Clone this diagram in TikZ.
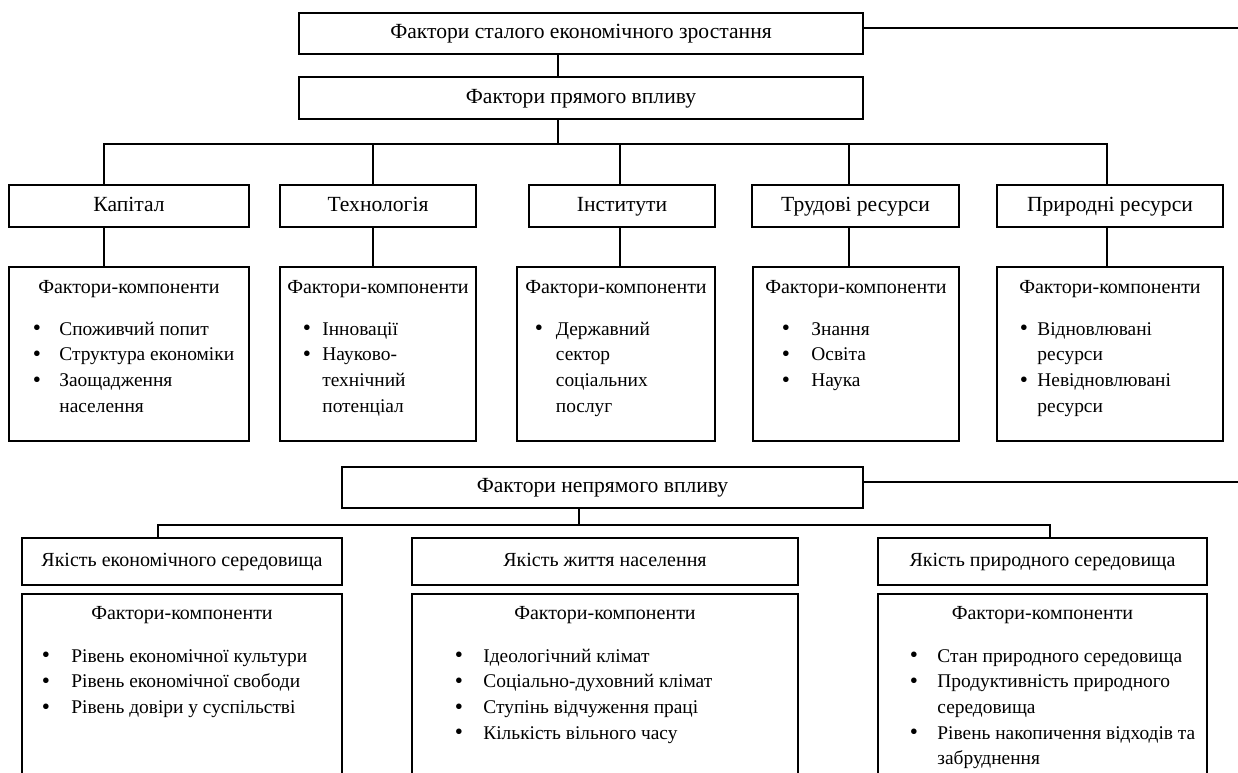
\documentclass[tikz,border=0pt]{standalone}
\usepackage{fontspec}
\setmainfont{Liberation Serif}
\usetikzlibrary{calc}
\newcommand{\Blt}[1]{\makebox[#1][l]{\raisebox{-0.3pt}{\scalebox{1.2}{•}}}}
\newcommand{\Cnt}[1]{\hspace*{#1}}
\tikzset{
  box/.style 2 args={draw, line width=0.75pt, inner sep=0pt, outer sep=0pt,
    anchor=north west, minimum width=#1*0.5pt, minimum height=#2*0.5pt,
    text height=7pt, text depth=2pt},
  big/.style={font=\fontsize{10.8}{13}\selectfont},
  head/.style={anchor=base, inner sep=0pt},
  items/.style={anchor=north west, inner sep=0pt, align=left,
    font=\fontsize{9.7}{12.8}\selectfont},
  link/.style={line width=0.75pt, line cap=rect}
}

\begin{document}
\begin{tikzpicture}[x=0.5pt, y=-0.5pt, font=\fontsize{10}{12.8}\selectfont]
  \useasboundingbox (0,0) rectangle (1238,772);
  % direct factors
  \node[box={564}{41}, big] (sust) at (299,13) {Фактори сталого економічного зростання};
  \node[box={564}{42}, big] (direct) at (299,77) {Фактори прямого впливу};
  \node[box={240}{42}, big] (kap) at (9,185) {Капітал};
  \node[box={196}{42}, big] (tech) at (280,185) {Технологія};
  \node[box={186}{42}, big] (inst) at (529,185) {Інститути};
  \node[box={207}{42}, big] (lab) at (752,185) {Трудові ресурси};
  \node[box={226}{42}, big] (nat) at (997,185) {Природні ресурси};
  \node[box={240}{174}] (kapC) at (9,267) {};
  \node[box={196}{174}] (techC) at (280,267) {};
  \node[box={198}{174}] (instC) at (517,267) {};
  \node[box={206}{174}] (labC) at (753,267) {};
  \node[box={226}{174}] (natC) at (997,267) {};
  % indirect factors
  \node[box={521}{41}, big] (indirect) at (342,467) {Фактори непрямого впливу};
  \node[box={320}{47}] (econ) at (22,538) {Якість економічного середовища};
  \node[box={386}{47}] (life) at (412,538) {Якість життя населення};
  \node[box={329}{47}] (env) at (878,538) {Якість природного середовища};
  \node[box={320}{200}] (econC) at (22,594) {};
  \node[box={386}{200}] (lifeC) at (412,594) {};
  \node[box={329}{200}] (envC) at (878,594) {};
  \foreach \f in {kapC,techC,instC,labC,natC}
    \node[head] (\f-h) at ($(\f.north)+(0,26)$) {Фактори-компоненти};
  \foreach \f in {econC,lifeC,envC}
    \node[head] (\f-h) at ($(\f.north)+(0,25)$) {Фактори-компоненти};
  % lists
  \node[items] (kapL) at ($(kapC.north west)+(23.5,50)$) {\strut\Blt{13.25pt}Споживчий попит\\
    \Blt{13.25pt}Структура економіки\\
    \Blt{13.25pt}Заощадження\\
    \Cnt{13.25pt}населення};
  \node[items] (techL) at ($(techC.north west)+(22.5,50)$) {\strut\Blt{9.75pt}Інновації\\
    \Blt{9.75pt}Науково-\\
    \Cnt{9.75pt}технічний\\
    \Cnt{9.75pt}потенціал};
  \node[items] (instL) at ($(instC.north west)+(17.5,50)$) {\strut\Blt{10.5pt}Державний\\
    \Cnt{10.5pt}сектор\\
    \Cnt{10.5pt}соціальних\\
    \Cnt{10.5pt}послуг};
  \node[items] (labL) at ($(labC.north west)+(28.5,50)$) {\strut\Blt{14.75pt}Знання\\
    \Blt{14.75pt}Освіта\\
    \Blt{14.75pt}Наука};
  \node[items] (natL) at ($(natC.north west)+(22.5,50)$) {\strut\Blt{8.75pt}Відновлювані\\
    \Cnt{8.75pt}ресурси\\
    \Blt{8.75pt}Невідновлювані\\
    \Cnt{8.75pt}ресурси};
  \node[items] (econL) at ($(econC.north west)+(19.5,50)$) {\strut\Blt{14.75pt}Рівень економічної культури\\
    \Blt{14.75pt}Рівень економічної свободи\\
    \Blt{14.75pt}Рівень довіри у суспільстві};
  \node[items] (lifeL) at ($(lifeC.north west)+(42.5,50)$) {\strut\Blt{14.25pt}Ідеологічний клімат\\
    \Blt{14.25pt}Соціально-духовний клімат\\
    \Blt{14.25pt}Ступінь відчуження праці\\
    \Blt{14.25pt}Кількість вільного часу};
  \node[items] (envL) at ($(envC.north west)+(31.5,50)$) {\strut\Blt{13.75pt}Стан природного середовища\\
    \Blt{13.75pt}Продуктивність природного\\
    \Cnt{13.75pt}середовища\\
    \Blt{13.75pt}Рівень накопичення відходів та\\
    \Cnt{13.75pt}забруднення};
  % connectors
  \coordinate (upBus) at (558,144);
  \coordinate (kapX) at (104,144);
  \coordinate (techX) at (373,144);
  \coordinate (instX) at (620,144);
  \coordinate (labX) at (849,144);
  \coordinate (natX) at (1107,144);
  \draw[link] (upBus |- sust.south) -- (upBus |- direct.north);
  \draw[link] (upBus |- direct.south) -- (upBus);
  \draw[link] (kapX) -- (natX);
  \foreach \f in {kap,tech,inst,lab,nat} {
    \draw[link] (\f X) -- (\f X |- \f.north);
    \draw[link] (\f X |- \f.south) -- (\f X |- \f C.north);
  }
  \coordinate (rimA) at (1238,28);
  \coordinate (rimB) at (1238,482);
  \draw[link] (rimA -| sust.east) -- (rimA);
  \draw[link] (rimB -| indirect.east) -- (rimB);
  \coordinate (lowBus) at (579,525);
  \coordinate (econX) at (158,525);
  \coordinate (envX) at (1050,525);
  \draw[link] (lowBus |- indirect.south) -- (lowBus);
  \draw[link] (econX) -- (envX);
  \draw[link] (econX) -- (econX |- econ.north);
  \draw[link] (envX) -- (envX |- env.north);
\end{tikzpicture}
\end{document}
